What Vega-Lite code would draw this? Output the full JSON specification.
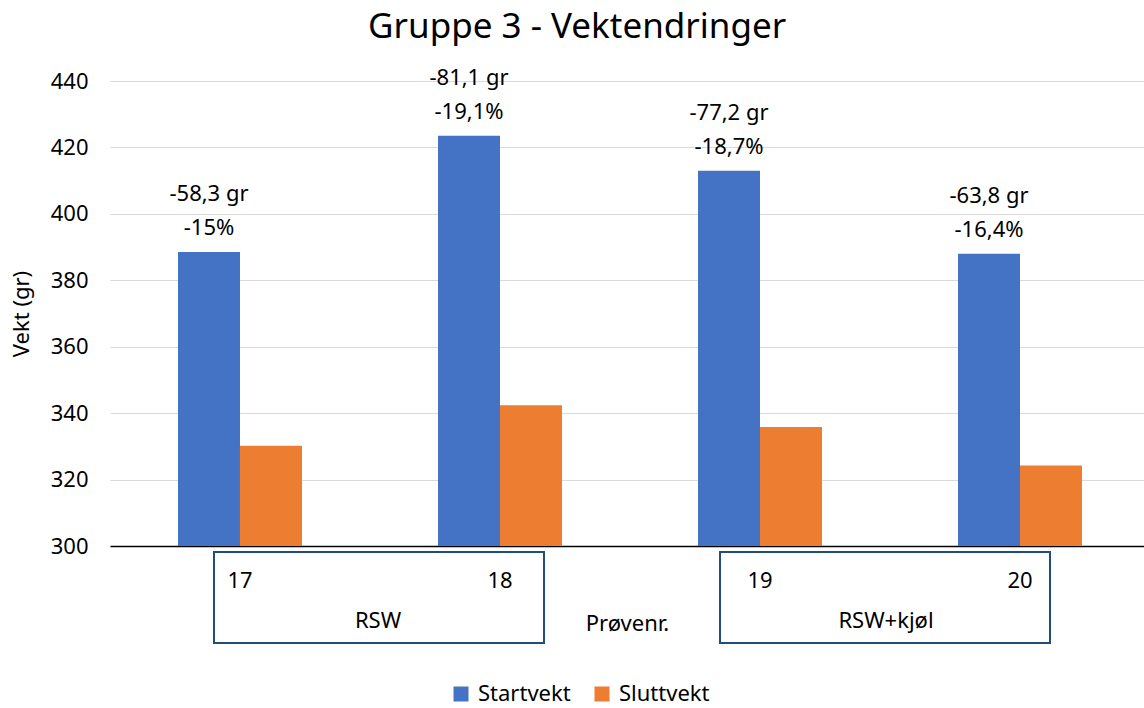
{
  "$schema": "https://vega.github.io/schema/vega-lite/v6.json",
  "autosize": "none",
  "width": 1034,
  "height": 465,
  "padding": {"left": 110, "top": 81, "right": 0, "bottom": 162},
  "background": "white",
  "config": {
    "font": "Noto Sans",
    "view": {"stroke": null},
    "text": {"color": "#000000"}
  },
  "title": {
    "text": "Gruppe 3 - Vektendringer",
    "fontSize": 35,
    "fontWeight": "normal",
    "color": "#000000",
    "frame": "bounds",
    "anchor": "middle",
    "offset": 22
  },
  "datasets": {
    "vekter": [
      {"prove": "17", "serie": "Startvekt", "vekt": 388.5, "etikett": "-58,3 gr\n-15%"},
      {"prove": "17", "serie": "Sluttvekt", "vekt": 330.2, "etikett": ""},
      {"prove": "18", "serie": "Startvekt", "vekt": 423.5, "etikett": "-81,1 gr\n-19,1%"},
      {"prove": "18", "serie": "Sluttvekt", "vekt": 342.4, "etikett": ""},
      {"prove": "19", "serie": "Startvekt", "vekt": 413.0, "etikett": "-77,2 gr\n-18,7%"},
      {"prove": "19", "serie": "Sluttvekt", "vekt": 335.8, "etikett": ""},
      {"prove": "20", "serie": "Startvekt", "vekt": 388.0, "etikett": "-63,8 gr\n-16,4%"},
      {"prove": "20", "serie": "Sluttvekt", "vekt": 324.2, "etikett": ""}
    ],
    "grupper": [
      {"gruppe": "RSW", "fra": "17", "til": "18"},
      {"gruppe": "RSW+kjøl", "fra": "19", "til": "20"}
    ]
  },
  "layer": [
    {
      "data": {"name": "vekter"},
      "mark": {"type": "bar", "clip": true},
      "encoding": {
        "x": {
          "field": "prove",
          "type": "nominal",
          "title": "Prøvenr.",
          "scale": {"paddingInner": 0.5231, "paddingOuter": 0.25, "align": 0.523},
          "axis": {
            "labelAngle": 0,
            "labelFontSize": 22,
            "labelColor": "#000000",
            "labelPadding": 24,
            "ticks": false,
            "tickSize": 0,
            "domainColor": "#000000",
            "domainWidth": 1.6,
            "grid": false,
            "titleFontSize": 22,
            "titleFontWeight": "normal",
            "titleColor": "#000000",
            "titlePadding": 22
          }
        },
        "xOffset": {
          "field": "serie",
          "type": "nominal",
          "sort": ["Startvekt", "Sluttvekt"],
          "scale": {"paddingInner": 0, "paddingOuter": 0}
        },
        "y": {
          "field": "vekt",
          "type": "quantitative",
          "title": "Vekt (gr)",
          "scale": {"domain": [300, 440], "zero": false, "nice": false},
          "axis": {
            "values": [300, 320, 340, 360, 380, 400, 420, 440],
            "domain": false,
            "ticks": false,
            "tickSize": 0,
            "gridColor": "#d9d9d9",
            "gridWidth": 1,
            "labelFontSize": 22,
            "labelColor": "#000000",
            "labelPadding": 22,
            "titleFontSize": 22,
            "titleFontWeight": "normal",
            "titleColor": "#000000",
            "titlePadding": 17
          }
        },
        "y2": {"datum": 300},
        "color": {
          "field": "serie",
          "type": "nominal",
          "sort": ["Startvekt", "Sluttvekt"],
          "scale": {"domain": ["Startvekt", "Sluttvekt"], "range": ["#4472C4", "#ED7D31"]},
          "legend": {
            "title": null,
            "orient": "none",
            "legendX": 340,
            "legendY": 602,
            "direction": "horizontal",
            "symbolType": "square",
            "symbolSize": 225,
            "symbolStrokeWidth": 0,
            "labelFontSize": 22,
            "labelColor": "#000000",
            "labelOffset": 6,
            "columnPadding": 20
          }
        }
      }
    },
    {
      "data": {"name": "vekter"},
      "transform": [{"filter": "datum.serie === 'Startvekt'"}],
      "mark": {"type": "text", "baseline": "bottom", "dy": -46, "fontSize": 22, "lineHeight": 34, "lineBreak": "\n", "color": "#000000"},
      "encoding": {
        "x": {"field": "prove", "type": "nominal", "title": "Prøvenr."},
        "xOffset": {"field": "serie", "type": "nominal", "sort": ["Startvekt", "Sluttvekt"]},
        "y": {"field": "vekt", "type": "quantitative", "title": "Vekt (gr)"},
        "text": {"field": "etikett", "type": "nominal"}
      }
    },
    {
      "data": {"name": "grupper"},
      "transform": [{"filter": "datum.gruppe === 'RSW'"}],
      "layer": [
        {
          "mark": {"type": "rect", "filled": false, "stroke": "#1F4E79", "strokeWidth": 2, "xOffset": -26, "x2Offset": 44, "yOffset": 6, "y2Offset": 97, "clip": false},
          "encoding": {
            "x": {"field": "fra", "type": "nominal", "bandPosition": 0.5, "title": "Prøvenr."},
            "x2": {"field": "til", "bandPosition": 0.5},
            "y": {"datum": 300, "type": "quantitative", "title": "Vekt (gr)"},
            "y2": {"datum": 300}
          }
        },
        {
          "mark": {"type": "text", "fontSize": 22, "baseline": "middle", "dx": 138, "dy": 75, "color": "#000000"},
          "encoding": {
            "x": {"field": "fra", "type": "nominal", "title": "Prøvenr."},
            "y": {"datum": 300, "type": "quantitative", "title": "Vekt (gr)"},
            "text": {"field": "gruppe", "type": "nominal"}
          }
        }
      ]
    },
    {
      "data": {"name": "grupper"},
      "transform": [{"filter": "datum.gruppe === 'RSW+kjøl'"}],
      "layer": [
        {
          "mark": {"type": "rect", "filled": false, "stroke": "#1F4E79", "strokeWidth": 2, "xOffset": -40, "x2Offset": 30, "yOffset": 6, "y2Offset": 97, "clip": false},
          "encoding": {
            "x": {"field": "fra", "type": "nominal", "bandPosition": 0.5, "title": "Prøvenr."},
            "x2": {"field": "til", "bandPosition": 0.5},
            "y": {"datum": 300, "type": "quantitative", "title": "Vekt (gr)"},
            "y2": {"datum": 300}
          }
        },
        {
          "mark": {"type": "text", "fontSize": 22, "baseline": "middle", "dx": 126, "dy": 75, "color": "#000000"},
          "encoding": {
            "x": {"field": "fra", "type": "nominal", "title": "Prøvenr."},
            "y": {"datum": 300, "type": "quantitative", "title": "Vekt (gr)"},
            "text": {"field": "gruppe", "type": "nominal"}
          }
        }
      ]
    }
  ]
}
